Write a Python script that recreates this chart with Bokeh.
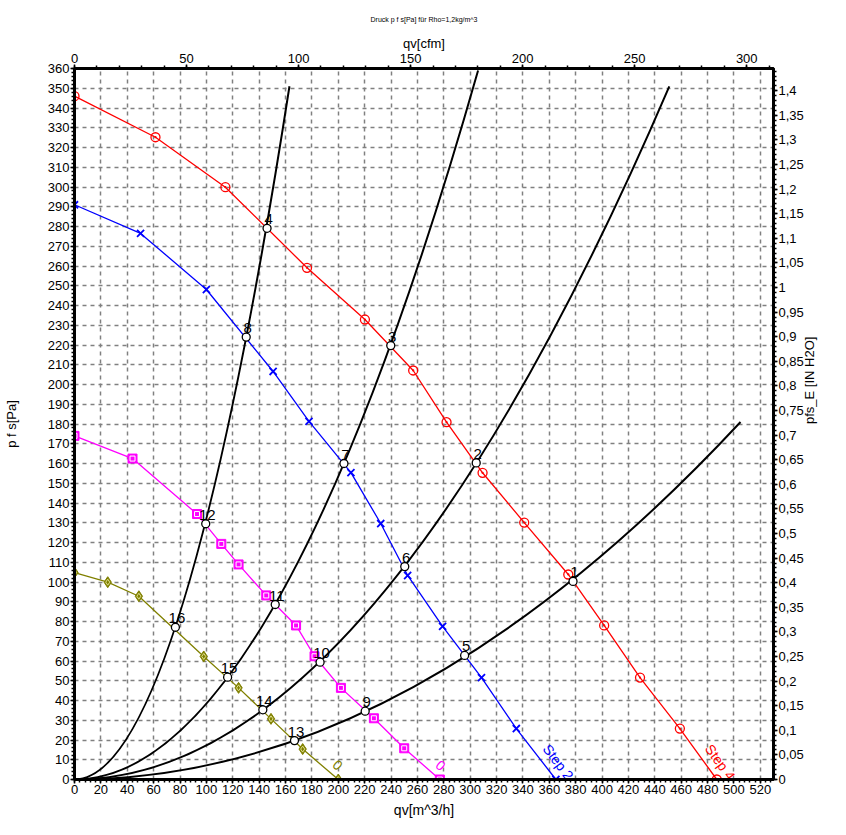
import math
from bokeh.plotting import figure
from bokeh.models import (Range1d, LinearAxis, SingleIntervalTicker,
                          CustomJSTickFormatter, Title)
from bokeh.embed import file_html
from bokeh.resources import INLINE
from bokeh.core.properties import value

# ---------------- data ----------------
# fan curve "Step 4" (red)
step4_q = [0, 61.4, 114.4, 176.3, 220.2, 256.8, 282.1, 309.4, 341, 374.4, 401.6, 428.8, 459, 487]
step4_p = [346, 325.2, 299.9, 259.1, 232.9, 207.1, 180.9, 155.3, 130.1, 103.8, 78, 51.6, 25.8, 0]
# fan curve "Step 2" (blue)
step2_q = [0, 50.1, 100, 150.6, 177.8, 209.6, 232.2, 252.6, 279.1, 308.6, 335, 365]
step2_p = [291, 276.5, 248.1, 206.6, 181.3, 155.4, 129.6, 103.3, 77.5, 51.6, 25.8, 0]
# fan curve "0" (magenta)
mag_q = [0, 44, 92.9, 111.3, 124.4, 145.4, 168, 182, 202, 227, 250, 277]
mag_p = [174, 162.5, 134.4, 119.3, 108.9, 93.2, 78, 62.4, 46.4, 31, 15.8, 0]
# fan curve "0" (olive)
olv_q = [0, 25.2, 48.8, 98, 124.4, 149, 173, 200]
olv_p = [104.8, 99.9, 92.8, 62.3, 46.4, 30.7, 15.4, 0]

# system curves (parabolas through the origin), end points
sys_end_q = [163, 306, 451, 505]
sys_end_p = [351, 359, 351, 181]

# operating points
op_lbl = [str(i) for i in range(1, 17)]
op_q = [378, 304.6, 239.8, 146, 295.8, 250.4, 204.3, 130.2, 220.4, 186.2, 152.2, 99.5, 166.8, 142.8, 116.1, 76.5]
op_p = [100.3, 160.3, 219.7, 279.1, 62.8, 107.8, 160, 224, 34.6, 59.4, 88.6, 129.5, 19.7, 35.3, 51.8, 77.1]

# curve end labels
end_text = ["Step 4", "Step 2", "0", "0"]
end_q = [480.5, 357.6, 277.6, 199.5]
end_p = [17, 17, 7.1, 7.4]

# titles
title_text = "Druck p f s[Pa] für Rho=1,2kg/m^3"
x_label = "qv[m^3/h]"
x2_label = "qv[cfm]"
y_label = "p f s[Pa]"
y2_label = "pfs_E [IN H2O]"

# axis ranges / units
Q_MAX = 530
P_MAX = 360
M3H_PER_CFM = 1.69901
PA_PER_INH2O = 249.089

FONT = "Liberation Sans"

p = figure(width=846, height=835, output_backend="svg", toolbar_location=None,
           x_range=Range1d(0, Q_MAX), y_range=Range1d(0, P_MAX),
           min_border_left=73, min_border_right=73, min_border_top=68, min_border_bottom=56,
           background_fill_color="white", border_fill_color="white")
p.outline_line_color = "black"
p.outline_line_width = 3

xt = SingleIntervalTicker(interval=20, num_minor_ticks=5)
yt = SingleIntervalTicker(interval=10, num_minor_ticks=5)
p.below[0].ticker = xt
p.left[0].ticker = yt
p.xgrid[0].ticker = xt
p.ygrid[0].ticker = yt
for g in (p.xgrid[0], p.ygrid[0]):
    g.grid_line_color = "#808080"
    g.grid_line_dash = "4 4"
    g.grid_line_width = 1.5

p.extra_x_ranges = {"cfm": Range1d(0, Q_MAX / M3H_PER_CFM)}
p.extra_y_ranges = {"inh2o": Range1d(0, P_MAX / PA_PER_INH2O)}
top = LinearAxis(x_range_name="cfm", ticker=SingleIntervalTicker(interval=50, num_minor_ticks=5))
right = LinearAxis(y_range_name="inh2o", ticker=SingleIntervalTicker(interval=0.05, num_minor_ticks=5))
right.formatter = CustomJSTickFormatter(
    code="var v = Math.round(tick*100)/100; return v.toString().replace('.', ',');")
p.add_layout(top, "above")
p.add_layout(right, "right")

t = Title(text=title_text, align="center", text_font=FONT, text_font_size="7px",
          text_font_style="normal", text_color="black", standoff=20)
p.add_layout(t, "above")

bottom = p.below[0]
left = p.left[0]
bottom.axis_label = x_label
top.axis_label = x2_label
left.axis_label = y_label
right.axis_label = y2_label

for ax in (bottom, left, top, right):
    ax.axis_line_width = 3
    ax.axis_line_color = "black"
    ax.major_tick_line_color = "black"
    ax.minor_tick_line_color = "black"
    ax.major_tick_line_width = 1.5
    ax.minor_tick_line_width = 1.5
    ax.major_tick_in = 0
    ax.minor_tick_in = 0
    ax.major_tick_out = 4
    ax.minor_tick_out = 3
    ax.major_label_text_font = FONT
    ax.major_label_text_font_size = "13px"
    ax.major_label_text_color = "black"
    ax.major_label_standoff = 1
    ax.axis_label_text_font = FONT
    ax.axis_label_text_font_size = "13px"
    ax.axis_label_text_font_style = "normal"
    ax.axis_label_text_color = "black"
top.major_label_standoff = 2
top.axis_label_standoff = 0
bottom.axis_label_text_font_size = "14px"
bottom.axis_label_standoff = 5
left.axis_label_standoff = 26
right.axis_label_standoff = 3
right.axis_label_orientation = math.pi / 2

# system curves: exact parabolas p = k*q^2 drawn as quadratic Bezier from the origin
p.quadratic(x0=[0] * 4, y0=[0] * 4, x1=sys_end_q, y1=sys_end_p,
            cx=[q / 2 for q in sys_end_q], cy=[0] * 4, line_color="black", line_width=2)

# fan curves
p.line(step4_q, step4_p, line_color="#ff0000", line_width=1.3)
p.scatter(step4_q, step4_p, marker="circle_dot", size=9, line_color="#ff0000",
          fill_color=None, line_width=1.3)

p.line(step2_q, step2_p, line_color="#0000ff", line_width=1.3)
p.scatter(step2_q, step2_p, marker="x", size=10, line_color="#0000ff", line_width=1.8)

p.line(mag_q, mag_p, line_color="#ff00ff", line_width=1.3)
p.scatter(mag_q, mag_p, marker="square", size=9, line_color="#ff00ff",
          fill_color="#ff00ff", line_width=1)
p.scatter(mag_q, mag_p, marker="square", size=5, line_color="white",
          fill_color=None, line_width=1)

p.line(olv_q, olv_p, line_color="#808000", line_width=1.3)
p.scatter(olv_q, olv_p, marker="diamond", size=11, line_color="#808000",
          fill_color="#808000", line_width=1)
p.scatter(olv_q, olv_p, marker="diamond", size=6, line_color="#e0e090",
          fill_color=None, line_width=1)

# operating points
p.scatter(op_q, op_p, marker="circle", size=8, line_color="black",
          fill_color="white", line_width=1.3)
p.text(x=op_q, y=op_p, text=op_lbl, x_offset=1.5, y_offset=-9,
       text_align="center", text_baseline="middle",
       text_font=value(FONT), text_font_size="15px", text_color="black")

# curve end labels
end_colors = ["#ff0000", "#0000ff", "#ff00ff", "#808000"]
end_angles = [-0.94, -0.93, -0.69, -0.71]
p.text(x=end_q[:2], y=end_p[:2], text=end_text[:2], angle=end_angles[:2],
       text_align="left", text_baseline="middle", text_color=end_colors[:2],
       text_font=value(FONT), text_font_size="14px")
p.text(x=end_q[2:], y=end_p[2:], text=end_text[2:], angle=end_angles[2:],
       text_align="center", text_baseline="middle", text_color=end_colors[2:],
       text_font=value(FONT), text_font_size="14px")

open("out.html", "w").write(file_html(p, INLINE))
